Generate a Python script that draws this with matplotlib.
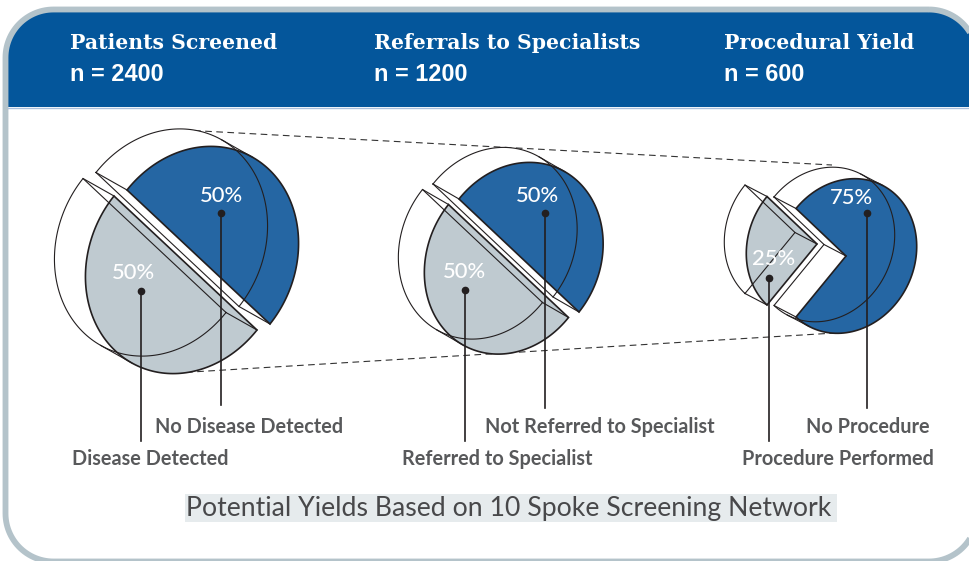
import numpy as np
import matplotlib
matplotlib.use('Agg')
import matplotlib.pyplot as plt
from matplotlib.patches import Polygon, Rectangle

# valores de la figura
titulos = ['Patients Screened', 'Referrals to Specialists', 'Procedural Yield']
n_pacientes = [2400, 1200, 600]
parte_azul = [50, 50, 75]
parte_gris = [50, 50, 25]
etiquetas_azul = ['No Disease Detected', 'Not Referred to Specialist', 'No Procedure']
etiquetas_gris = ['Disease Detected', 'Referred to Specialist', 'Procedure Performed']
pie_figura = 'Potential Yields Based on 10 Spoke Screening Network'

AZUL = '#2566a3'
GRIS = '#bfcad0'
NEGRO = '#231f20'
BORDE = '#b4c3ca'
CABECERA = '#04569b'

fig = plt.figure(figsize=(9.69, 5.61), dpi=100)
ax = fig.add_axes([0, 0, 1, 1])
ax.set_xlim(0, 969)
ax.set_ylim(561, 0)
ax.axis('off')


# rectangulo con esquinas redondeadas de verdad
def contorno_marco(x0, y0, x1, y1, r):
    trozos = []
    esquinas = [(x1 - r, y0 + r, -90), (x1 - r, y1 - r, 0), (x0 + r, y1 - r, 90), (x0 + r, y0 + r, 180)]
    for cx, cy, a in esquinas:
        t = np.radians(np.linspace(a, a + 90, 30))
        trozos.append(np.column_stack([cx + r * np.cos(t), cy + r * np.sin(t)]))
    return np.vstack(trozos)


forma = contorno_marco(5.5, 9.5, 977, 561.5, 48)
marco = Polygon(forma, closed=True, fc='white', ec='none', zorder=1)
ax.add_patch(marco)
cabecera = Rectangle((0, 0), 969, 107, fc=CABECERA, ec='none', zorder=1.1)
ax.add_patch(cabecera)
cabecera.set_clip_path(marco)
ax.add_patch(Polygon(forma, closed=True, fc='none', ec=BORDE, lw=4.2, zorder=1.2))
ax.plot([8, 969], [107.5, 107.5], color='#a9bfdc', lw=1, zorder=1.3)


# sector proyectado: p(t) = c + u cos t + v sin t
def puntos_arco(c, u, v, t0, t1):
    t = np.radians(np.linspace(t0, t1, 120))
    return np.column_stack([c[0] + u[0] * np.cos(t) + v[0] * np.sin(t),
                            c[1] + u[1] * np.cos(t) + v[1] * np.sin(t)])


def dibujar_sector(c, u, v, desp, t0, t1, color, z):
    c = np.array(c, dtype=float)
    desp = np.array(desp, dtype=float)
    arco = puntos_arco(c, u, v, t0, t1)
    atras = arco + desp
    # parte de atras blanca, con las caras laterales
    ax.add_patch(Polygon(np.vstack([atras, c + desp]), closed=True, fc='white', ec='none', zorder=z))
    for p in (arco[0], arco[-1]):
        ax.add_patch(Polygon([c, p, p + desp, c + desp], closed=True, fc='white', ec='none', zorder=z))
    # parte de delante
    ax.add_patch(Polygon(np.vstack([arco, c]), closed=True, fc=color, ec=NEGRO, lw=1.2,
                         joinstyle='miter', zorder=z + 0.1))
    # lineas finas de la parte de atras
    contorno = np.vstack([atras, c + desp, atras[0]])
    ax.plot(contorno[:, 0], contorno[:, 1], color=NEGRO, lw=0.8, zorder=z + 0.2)
    for p in (arco[0], arco[-1]):
        ax.plot([p[0], p[0] + desp[0]], [p[1], p[1] + desp[1]], color=NEGRO, lw=0.8, zorder=z + 0.2)
    if abs(t1 - t0) != 180:
        ax.plot([c[0], c[0] + desp[0]], [c[1], c[1] + desp[1]], color=NEGRO, lw=0.8, zorder=z + 0.2)
    # silueta: tangente entre delante y atras
    tt = np.degrees(np.arctan2(v[0] * desp[1] - v[1] * desp[0], u[0] * desp[1] - u[1] * desp[0]))
    for tg in (tt, tt + 180, tt - 180, tt + 360, tt - 360):
        if min(t0, t1) < tg < max(t0, t1):
            p = puntos_arco(c, u, v, tg, tg)[0]
            ax.plot([p[0], p[0] + desp[0]], [p[1], p[1] + desp[1]], color=NEGRO, lw=0.8, zorder=z + 0.2)


# colocacion de cada grafico
centros = [(198.5, 257), (519, 255.5), (846, 256)]
ejes_u = [(71.5, 67), (60, 56.5), (50, 47.5)]
ejes_v = [(70, -88), (59, -74), (50, -61)]
desp_gris = [(-13, 6), (-10.5, 5.5), (-29, -12)]
desp_atras = [(-31, -17.5), (-26, -15), (-22, -11.5)]

for i in range(3):
    corte = 180 - 360 * parte_azul[i] / 100
    c_gris = (centros[i][0] + desp_gris[i][0], centros[i][1] + desp_gris[i][1])
    dibujar_sector(c_gris, ejes_u[i], ejes_v[i], desp_atras[i], corte, corte - 360 * parte_gris[i] / 100, GRIS, 2)
    dibujar_sector(centros[i], ejes_u[i], ejes_v[i], desp_atras[i], 180, corte, AZUL, 3)

# lineas discontinuas entre el primero y el ultimo
ax.plot([183, 832], [130, 165], color='#333333', lw=0.8, dashes=(6, 4), zorder=1.5)
ax.plot([175, 835], [373, 333], color='#333333', lw=0.8, dashes=(6, 4), zorder=1.5)

# lineas guia y textos
guias_azul = [(221, 213, 405), (545, 213, 408), (867, 213, 408)]
guias_gris = [(141, 291, 441), (465, 290, 441), (769, 278, 441)]
pos_pct_azul = [(221, 196), (537, 196), (851, 198)]
pos_pct_gris = [(133, 273), (464, 272), (774, 259)]
x_etq_azul = [155, 485, 806]
x_etq_gris = [72, 402, 742]
x_titulo = [70, 374, 724]

for i in range(3):
    for g in (guias_azul[i], guias_gris[i]):
        ax.plot([g[0], g[0]], [g[1], g[2]], color=NEGRO, lw=1.2, zorder=5)
        ax.plot(g[0], g[1], 'o', color=NEGRO, ms=4.5, zorder=5)
    ax.text(*pos_pct_azul[i], f'{parte_azul[i]}%', color='white', fontsize=15.8, family='Lato',
            weight='medium', ha='center', va='center', zorder=6)
    ax.text(*pos_pct_gris[i], f'{parte_gris[i]}%', color='white', fontsize=15.8, family='Lato',
            weight='medium', ha='center', va='center', zorder=6)
    ax.text(x_etq_azul[i], 426.5, etiquetas_azul[i], color='#58595b', fontsize=14.3, family='Lato',
            weight='bold', ha='left', va='center', zorder=6)
    ax.text(x_etq_gris[i], 458.5, etiquetas_gris[i], color='#58595b', fontsize=14.3, family='Lato',
            weight='bold', ha='left', va='center', zorder=6)
    ax.text(x_titulo[i], 43, titulos[i], color='white', fontsize=14.7, family='DejaVu Serif',
            weight='bold', ha='left', va='center', zorder=6)
    ax.text(x_titulo[i], 74, f'n = {n_pacientes[i]}', color='white', fontsize=16.9, family='Liberation Sans',
            weight='bold', ha='left', va='center', zorder=6)

ax.add_patch(Rectangle((185, 494), 652, 28, fc='#e6ebed', ec='none', zorder=1.5))
ax.text(186, 516, pie_figura, color='#48484a', fontsize=19.2, family='Lato',
        ha='left', va='baseline', zorder=6)

fig.savefig('out.png', dpi=100)
